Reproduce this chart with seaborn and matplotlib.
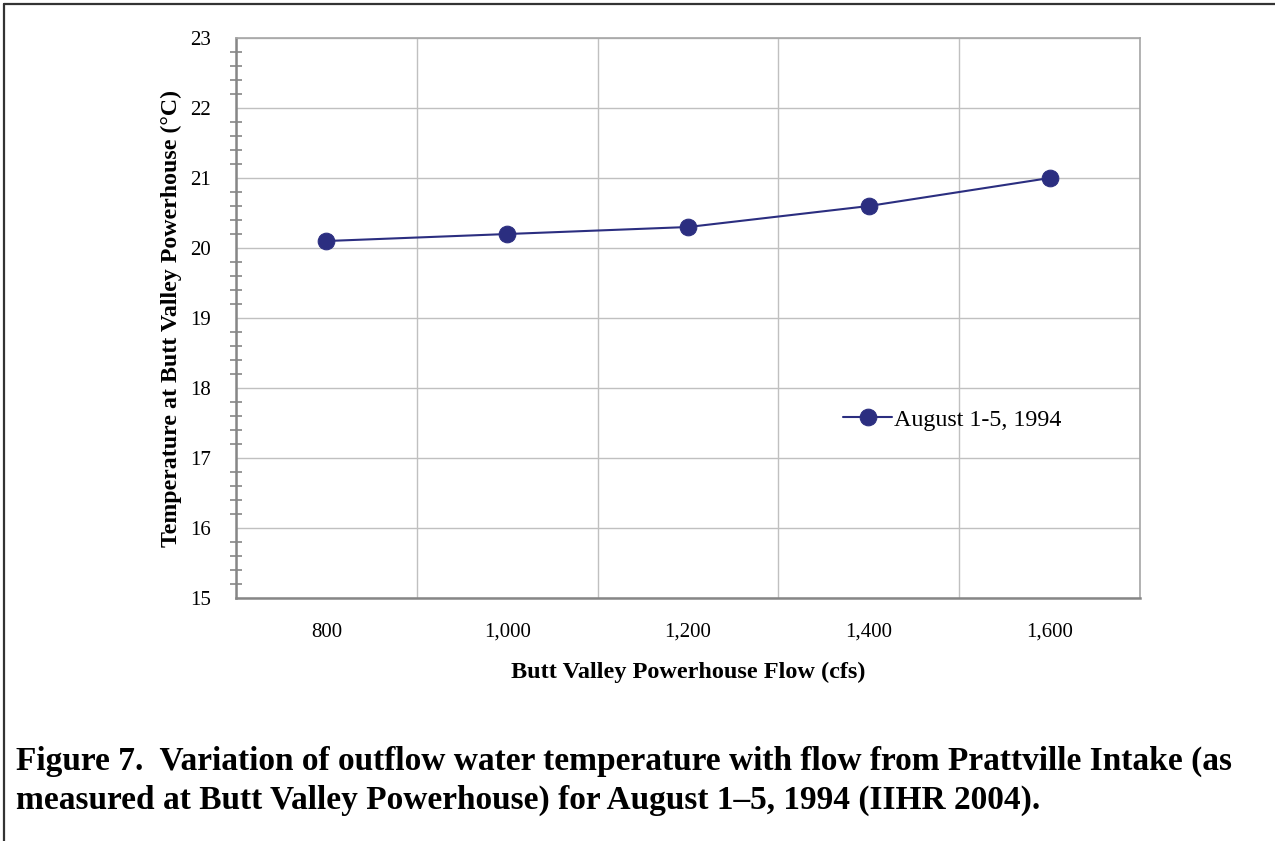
import numpy as np
import pandas as pd
import seaborn as sns
import matplotlib.pyplot as plt
from matplotlib.lines import Line2D
from matplotlib.ticker import FixedLocator, FuncFormatter, MultipleLocator

sns.set_style("white")
plt.rcParams['font.family'] = ['Liberation Serif', 'DejaVu Serif']
plt.rcParams['text.color'] = 'black'
plt.rcParams['axes.labelcolor'] = 'black'
plt.rcParams['xtick.labelcolor'] = 'black'
plt.rcParams['ytick.labelcolor'] = 'black'

# data
flow_cfs = [800, 1000, 1200, 1400, 1600]
temp_c = [20.1, 20.2, 20.3, 20.6, 21.0]
series_name = "August 1-5, 1994"
caption_lines = [
    "Figure 7.  Variation of outflow water temperature with flow from Prattville Intake (as",
    "measured at Butt Valley Powerhouse) for August 1\u20135, 1994 (IIHR 2004).",
]

df = pd.DataFrame({"flow": flow_cfs, "temp": temp_c})

fig = plt.figure(figsize=(12.75, 8.41), dpi=100)
ax = fig.add_axes([0.1851, 0.2889, 0.7090, 0.6659])

navy = "#2B2E80"
sns.lineplot(data=df, x="flow", y="temp", ax=ax, color=navy, linewidth=1.5,
             marker="o", markersize=12, markeredgecolor=navy, label=series_name)

ax.set_xlim(700, 1700)
ax.set_ylim(15, 23)

# x: labels on categories, tick marks / grid between them
ax.xaxis.set_major_locator(FixedLocator(flow_cfs))
ax.xaxis.set_major_formatter(FuncFormatter(lambda v, p: f"{int(v):,}"))
ax.xaxis.set_minor_locator(FixedLocator([700, 900, 1100, 1300, 1500, 1700]))
ax.tick_params(axis="x", which="major", length=0, pad=18, labelsize=15)
ax.tick_params(axis="x", which="minor", direction="inout", length=12, width=1.2, color="#868686")
ax.grid(axis="x", which="minor", color="#C0C0C0", linewidth=1)

ax.yaxis.set_major_locator(MultipleLocator(1))
ax.yaxis.set_minor_locator(MultipleLocator(0.2))
ax.tick_params(axis="y", which="major", direction="inout", length=12, width=1.2,
               color="#868686", labelsize=15, pad=12)
ax.tick_params(axis="y", which="minor", direction="inout", length=9, width=1.2, color="#868686", left=True)
ax.grid(axis="y", which="major", color="#C0C0C0", linewidth=1)

for side in ["left", "bottom"]:
    ax.spines[side].set_color("#868686")
    ax.spines[side].set_linewidth(1.8)
for side in ["top", "right"]:
    ax.spines[side].set_color("#A6A6A6")
    ax.spines[side].set_linewidth(1.2)

ax.set_xlabel("Butt Valley Powerhouse Flow (cfs)", fontsize=17.5, fontweight="bold", labelpad=14)
ax.set_ylabel("Temperature at Butt Valley Powerhouse (°C)", fontsize=17.2, fontweight="bold", labelpad=6)

ax.legend(loc="center left", bbox_to_anchor=(0.672, 0.318), frameon=False, fontsize=17.3,
          handlelength=2.0, handletextpad=0.1, borderpad=0, borderaxespad=0)

for line_text, y_pos in zip(caption_lines, [0.0951, 0.0487]):
    fig.text(0.0125, y_pos, line_text, fontsize=24, fontweight="bold", ha="left", va="center")

# page border (top and left)
fig.add_artist(Line2D([0.003, 1.0], [0.995, 0.995], color="#333333", linewidth=1.6))
fig.add_artist(Line2D([0.003, 0.003], [0.0, 0.995], color="#333333", linewidth=1.6))

fig.savefig("out.png", dpi=100)
